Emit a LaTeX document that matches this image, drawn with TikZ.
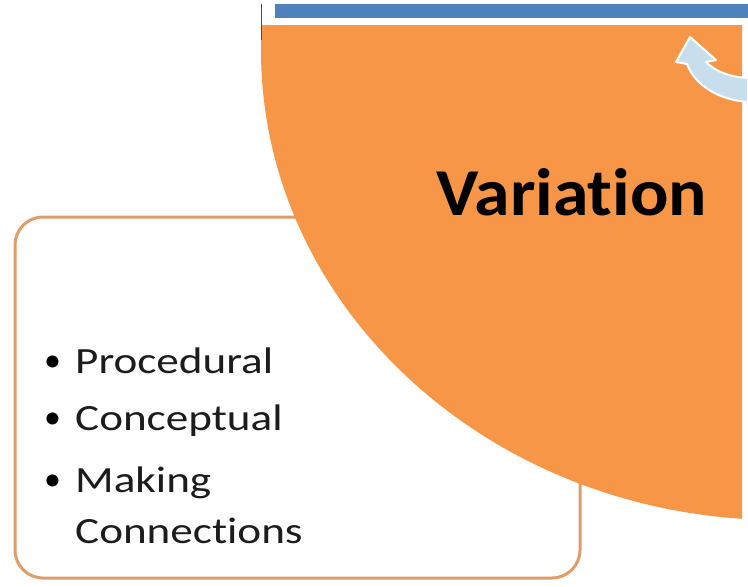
\documentclass[tikz,border=0pt]{standalone}
\usepackage{fontspec}
\setmainfont{Carlito}[Ligatures=NoCommon]
\newfontfamily\listfont{Carlito}[Ligatures=NoCommon, FakeStretch=1.22]
\newfontfamily\titlefont{Carlito}[Ligatures=NoCommon, FakeStretch=1.07]
\begin{document}
\definecolor{segorange}{RGB}{247,150,70}
\definecolor{barblue}{RGB}{79,129,189}
\definecolor{boxedge}{RGB}{222,158,108}
\definecolor{arrowblue}{RGB}{200,222,236}
\definecolor{inktext}{RGB}{28,28,28}
\begin{tikzpicture}[x=1pt,y=-1pt,
  listbox/.style={draw=boxedge, line width=3pt, fill=white, rounded corners=28pt,
    minimum width=565pt, minimum height=361pt, inner sep=0pt},
  bullettext/.style={anchor=base west, inner sep=0pt, text=inktext, font=\listfont\fontsize{37}{37}\selectfont},
  bulletmark/.style={anchor=base west, inner sep=0pt, text=black, font=\fontsize{34}{34}\selectfont},
  titletext/.style={anchor=base west, inner sep=0pt, text=black, font=\titlefont\bfseries\fontsize{67}{67}\selectfont}]
  \useasboundingbox[fill=white] (0,0) rectangle (748,587);

  % list box behind the segment
  \node[listbox] (box) at (297.5,397.5) {};

  % orange cycle segment
  \begin{scope}
    \clip (0,25) rectangle (742,587);
    \fill[segorange] (780,50) ellipse [x radius=519pt, y radius=470pt];
  \end{scope}
  \draw[gray!60!black, line width=1pt] (261,4) -- (261,40);

  % blue bar of the next segment
  \fill[barblue] (275,4) rectangle (748,18);

  % curved cycle arrow
  \filldraw[fill=arrowblue, draw=white, line width=2pt, line join=round]
    (690,37) -- (716,60) -- (706,62)
    .. controls (716,72) and (730,77) .. (748,78)
    -- (748,102)
    .. controls (720,100) and (695,86) .. (687,64)
    -- (676,62) -- cycle;

  % segment title
  \node[titletext] (title) at (436,215) {Variation};

  % bullet list
  \node[bulletmark] (b1) at (44,371) {•};
  \node[bullettext] (t1) at (75,373) {Procedural};
  \node[bulletmark] (b2) at (44,428) {•};
  \node[bullettext] (t2) at (75,430) {Conceptual};
  \node[bulletmark] (b3) at (44,490) {•};
  \node[bullettext] (t3) at (75,492) {Making};
  \node[bullettext] (t4) at (75,543) {Connections};
\end{tikzpicture}
\end{document}
